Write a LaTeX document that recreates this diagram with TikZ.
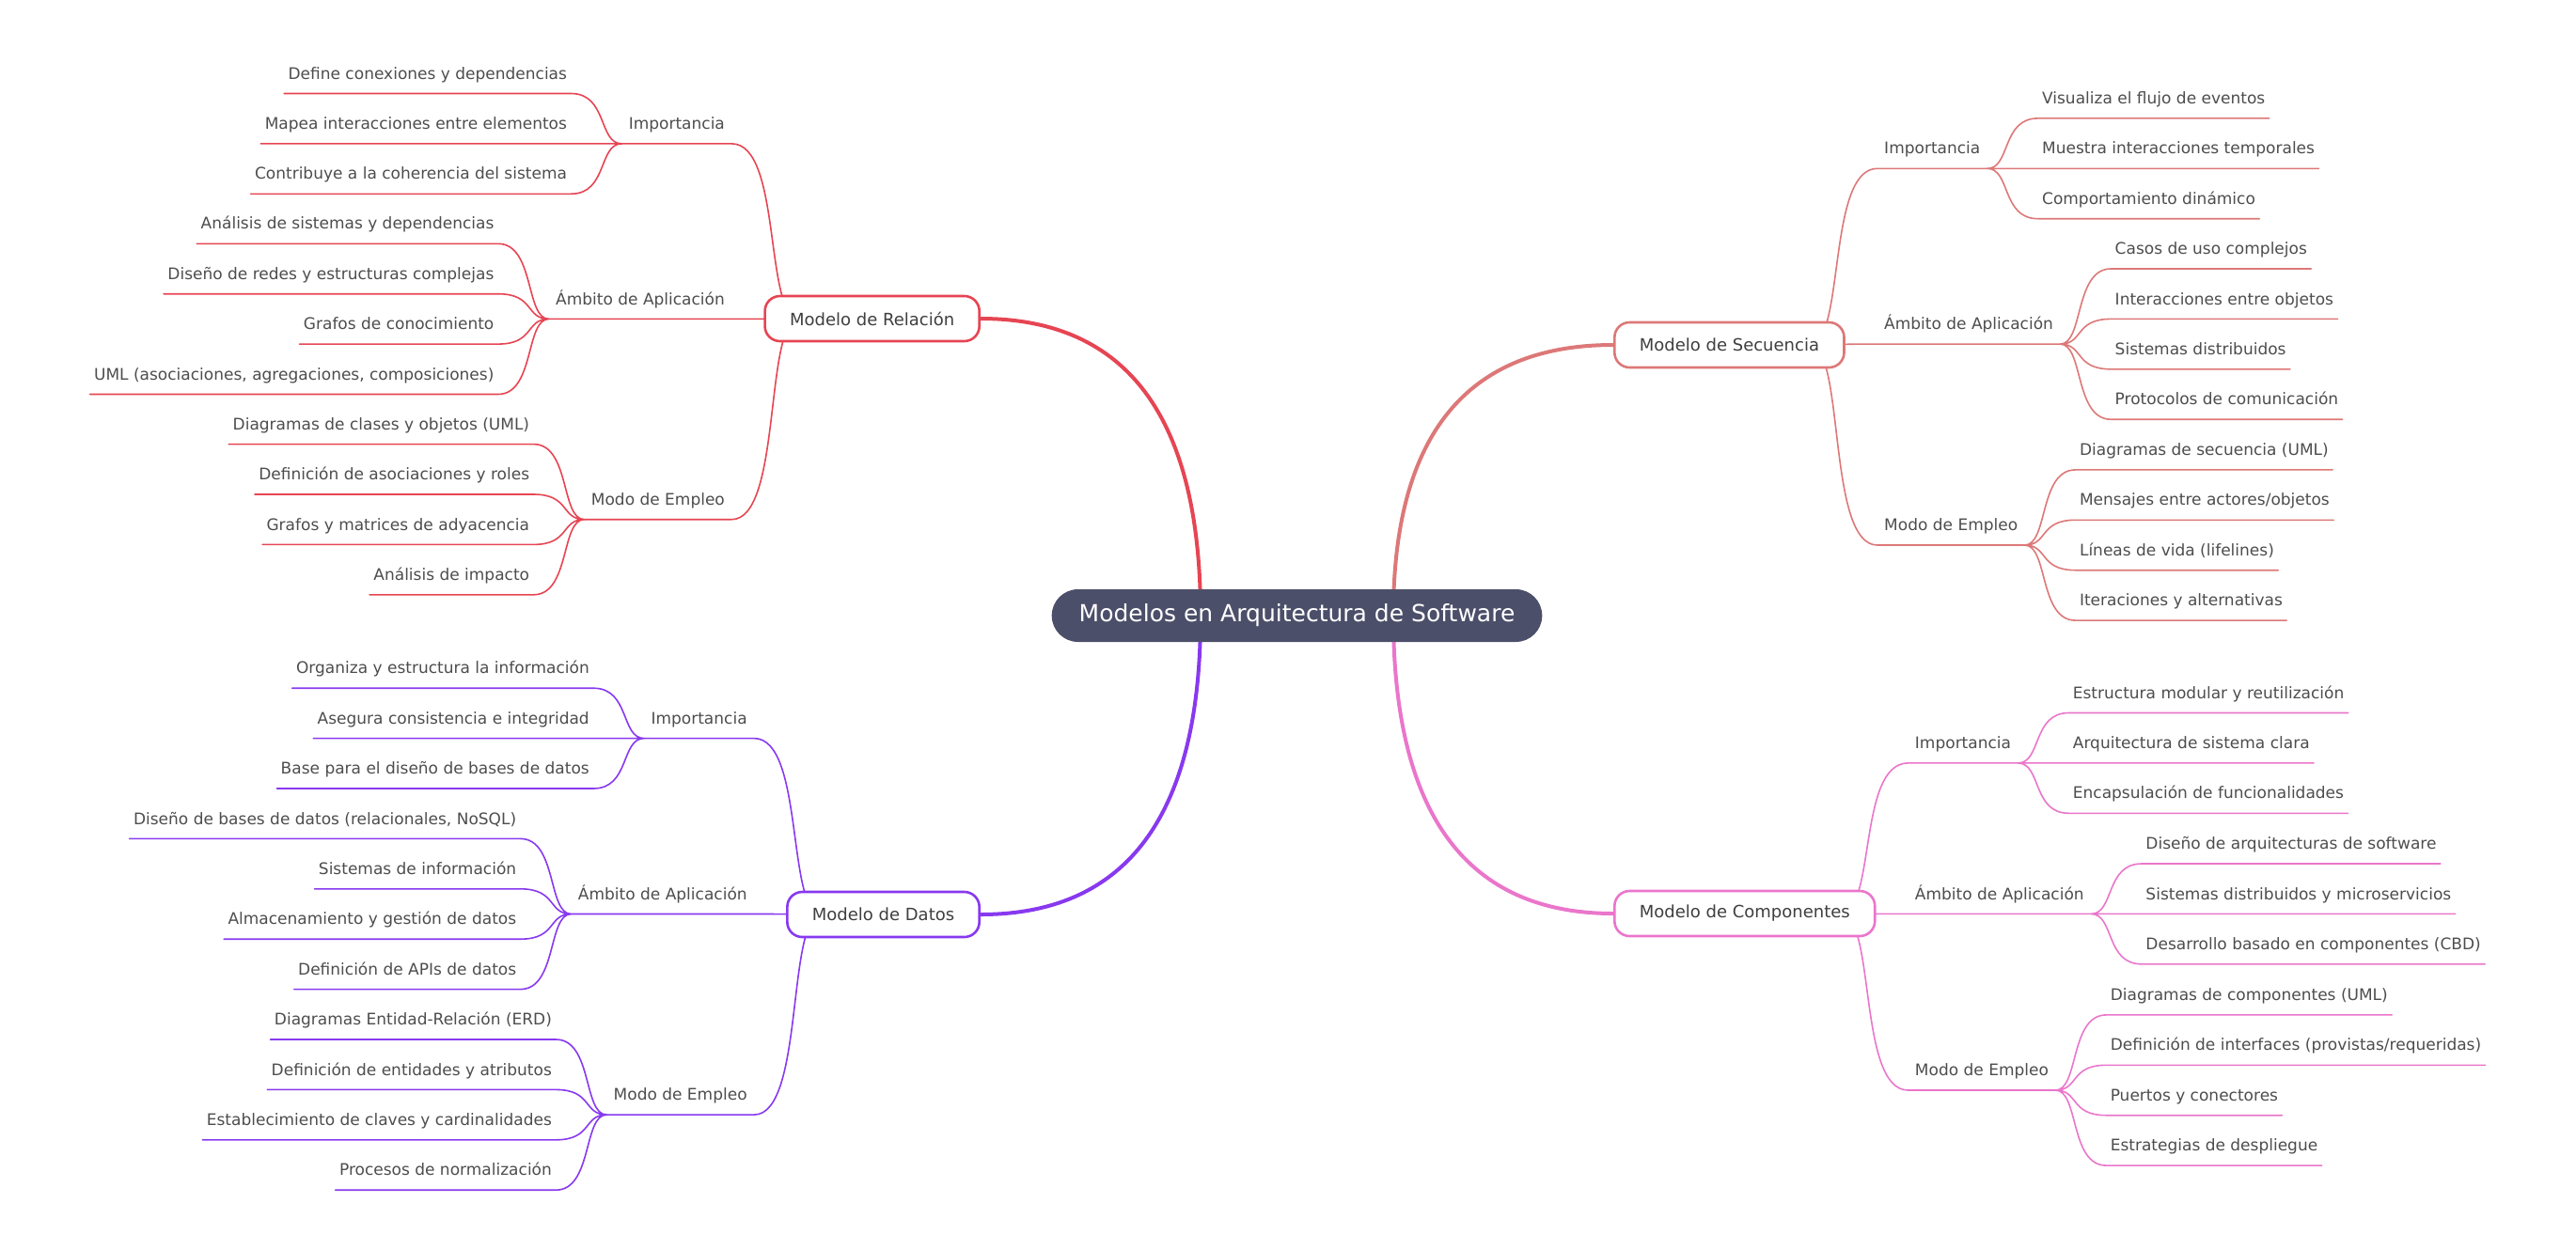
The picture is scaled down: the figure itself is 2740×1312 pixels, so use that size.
\documentclass[tikz,border=0pt]{standalone}
\usepackage{fontspec}
\setmainfont{DejaVu Sans}
\usetikzlibrary{positioning, calc, backgrounds}
\definecolor{RootC}{HTML}{4C4F69}
\definecolor{RelA}{HTML}{E64553}
\definecolor{SeqA}{HTML}{DD7878}
\definecolor{DatA}{HTML}{8839EF}
\definecolor{ComA}{HTML}{EA76CB}
\definecolor{TxtA}{HTML}{3F3F3F}
\definecolor{TxtB}{HTML}{4D4D4D}
\tikzset{
  root/.style={fill=RootC, text=white, rounded corners=14pt,
               minimum height=28pt, inner xsep=14.5pt,
               font=\fontsize{12.5}{15}\selectfont},
  topic/.style={draw, line width=1.3pt, fill=white, rounded corners=8pt,
                minimum height=24pt, inner xsep=13.25pt, text=TxtA,
                font=\fontsize{9}{11}\selectfont},
  subt/.style={inner xsep=3.5pt, inner ysep=0pt, text depth=7.5pt,
               text=TxtB, font=\fontsize{8.5}{10}\selectfont},
  leaf/.style={subt, inner xsep=2pt},
  mainln/.style={line width=2pt},
  rel/.style={draw=RelA, line width=0.8pt, line cap=round},
  seq/.style={draw=SeqA, line width=0.8pt, line cap=round},
  dat/.style={draw=DatA, line width=0.8pt, line cap=round},
  com/.style={draw=ComA, line width=0.8pt, line cap=round},
  fanl/.style={to path={.. controls +(-25,0) and +(39,0) .. (\tikztotarget)}},
  fanr/.style={to path={.. controls +(25,0) and +(-39,0) .. (\tikztotarget)}}
}

\begin{document}
\begin{tikzpicture}[x=0.5pt, y=-0.5pt]
  \useasboundingbox (0,0) rectangle (2740,1312);

  % ----- Root and the four models -----
  \node[root] (root) at (1379.5,655) {Modelos en Arquitectura de Software};
  \node[topic, draw=RelA, anchor=east] (rel) at (1043,339) {Modelo de Relación};
  \node[topic, draw=DatA, anchor=east] (dat) at (1043,973) {Modelo de Datos};
  \node[topic, draw=SeqA, anchor=west] (seq) at (1716,367) {Modelo de Secuencia};
  \node[topic, draw=ComA, anchor=west] (com) at (1716,972) {Modelo de Componentes};

  % ----- Modelo de Relación (left, top) -----
  \node[subt, anchor=south east] (relimp) at ($(rel.west |- 0,152.9)+(-34,0)$) {Importancia};
  \node[subt, anchor=south east] (relamb) at ($(rel.west |- 0,339.4)+(-34,0)$) {Ámbito de Aplicación};
  \node[subt, anchor=south east] (relmod) at ($(rel.west |- 0,552.7)+(-34,0)$) {Modo de Empleo};

  \node[leaf, anchor=south east] (relimp1) at ($(relimp.south west)+(-54,-53.4)$) {Define conexiones y dependencias};
  \node[leaf, anchor=south east] (relimp2) at ($(relimp.south west)+(-54,0)$) {Mapea interacciones entre elementos};
  \node[leaf, anchor=south east] (relimp3) at ($(relimp.south west)+(-54,53.4)$) {Contribuye a la coherencia del sistema};

  \node[leaf, anchor=south east] (relamb1) at ($(relamb.south west)+(-54,-80.1)$) {Análisis de sistemas y dependencias};
  \node[leaf, anchor=south east] (relamb2) at ($(relamb.south west)+(-54,-26.7)$) {Diseño de redes y estructuras complejas};
  \node[leaf, anchor=south east] (relamb3) at ($(relamb.south west)+(-54,26.7)$) {Grafos de conocimiento};
  \node[leaf, anchor=south east] (relamb4) at ($(relamb.south west)+(-54,80.1)$) {UML (asociaciones, agregaciones, composiciones)};

  \node[leaf, anchor=south east] (relmod1) at ($(relmod.south west)+(-54,-80.1)$) {Diagramas de clases y objetos (UML)};
  \node[leaf, anchor=south east] (relmod2) at ($(relmod.south west)+(-54,-26.7)$) {Definición de asociaciones y roles};
  \node[leaf, anchor=south east] (relmod3) at ($(relmod.south west)+(-54,26.7)$) {Grafos y matrices de adyacencia};
  \node[leaf, anchor=south east] (relmod4) at ($(relmod.south west)+(-54,80.1)$) {Análisis de impacto};

  % ----- Modelo de Datos (left, bottom) -----
  \node[subt, anchor=south east] (datimp) at ($(dat.west |- 0,785.6)+(-34,0)$) {Importancia};
  \node[subt, anchor=south east] (datamb) at ($(dat.west |- 0,972.5)+(-34,0)$) {Ámbito de Aplicación};
  \node[subt, anchor=south east] (datmod) at ($(dat.west |- 0,1186.1)+(-34,0)$) {Modo de Empleo};

  \node[leaf, anchor=south east] (datimp1) at ($(datimp.south west)+(-54,-53.4)$) {Organiza y estructura la información};
  \node[leaf, anchor=south east] (datimp2) at ($(datimp.south west)+(-54,0)$) {Asegura consistencia e integridad};
  \node[leaf, anchor=south east] (datimp3) at ($(datimp.south west)+(-54,53.4)$) {Base para el diseño de bases de datos};

  \node[leaf, anchor=south east] (datamb1) at ($(datamb.south west)+(-54,-80.1)$) {Diseño de bases de datos (relacionales, NoSQL)};
  \node[leaf, anchor=south east] (datamb2) at ($(datamb.south west)+(-54,-26.7)$) {Sistemas de información};
  \node[leaf, anchor=south east] (datamb3) at ($(datamb.south west)+(-54,26.7)$) {Almacenamiento y gestión de datos};
  \node[leaf, anchor=south east] (datamb4) at ($(datamb.south west)+(-54,80.1)$) {Definición de APIs de datos};

  \node[leaf, anchor=south east] (datmod1) at ($(datmod.south west)+(-54,-80.1)$) {Diagramas Entidad-Relación (ERD)};
  \node[leaf, anchor=south east] (datmod2) at ($(datmod.south west)+(-54,-26.7)$) {Definición de entidades y atributos};
  \node[leaf, anchor=south east] (datmod3) at ($(datmod.south west)+(-54,26.7)$) {Establecimiento de claves y cardinalidades};
  \node[leaf, anchor=south east] (datmod4) at ($(datmod.south west)+(-54,80.1)$) {Procesos de normalización};

  % ----- Modelo de Secuencia (right, top) -----
  \node[subt, anchor=south west] (seqimp) at ($(seq.east |- 0,179.3)+(34,0)$) {Importancia};
  \node[subt, anchor=south west] (seqamb) at ($(seq.east |- 0,366.1)+(34,0)$) {Ámbito de Aplicación};
  \node[subt, anchor=south west] (seqmod) at ($(seq.east |- 0,580)+(34,0)$) {Modo de Empleo};

  \node[leaf, anchor=south west] (seqimp1) at ($(seqimp.south east)+(54,-53.4)$) {Visualiza el flujo de eventos};
  \node[leaf, anchor=south west] (seqimp2) at ($(seqimp.south east)+(54,0)$) {Muestra interacciones temporales};
  \node[leaf, anchor=south west] (seqimp3) at ($(seqimp.south east)+(54,53.4)$) {Comportamiento dinámico};

  \node[leaf, anchor=south west] (seqamb1) at ($(seqamb.south east)+(54,-80.1)$) {Casos de uso complejos};
  \node[leaf, anchor=south west] (seqamb2) at ($(seqamb.south east)+(54,-26.7)$) {Interacciones entre objetos};
  \node[leaf, anchor=south west] (seqamb3) at ($(seqamb.south east)+(54,26.7)$) {Sistemas distribuidos};
  \node[leaf, anchor=south west] (seqamb4) at ($(seqamb.south east)+(54,80.1)$) {Protocolos de comunicación};

  \node[leaf, anchor=south west] (seqmod1) at ($(seqmod.south east)+(54,-80.1)$) {Diagramas de secuencia (UML)};
  \node[leaf, anchor=south west] (seqmod2) at ($(seqmod.south east)+(54,-26.7)$) {Mensajes entre actores/objetos};
  \node[leaf, anchor=south west] (seqmod3) at ($(seqmod.south east)+(54,26.7)$) {Líneas de vida (lifelines)};
  \node[leaf, anchor=south west] (seqmod4) at ($(seqmod.south east)+(54,80.1)$) {Iteraciones y alternativas};

  % ----- Modelo de Componentes (right, bottom) -----
  \node[subt, anchor=south west] (comimp) at ($(com.east |- 0,811.9)+(34,0)$) {Importancia};
  \node[subt, anchor=south west] (comamb) at ($(com.east |- 0,972.4)+(34,0)$) {Ámbito de Aplicación};
  \node[subt, anchor=south west] (commod) at ($(com.east |- 0,1160)+(34,0)$) {Modo de Empleo};

  \node[leaf, anchor=south west] (comimp1) at ($(comimp.south east)+(54,-53.4)$) {Estructura modular y reutilización};
  \node[leaf, anchor=south west] (comimp2) at ($(comimp.south east)+(54,0)$) {Arquitectura de sistema clara};
  \node[leaf, anchor=south west] (comimp3) at ($(comimp.south east)+(54,53.4)$) {Encapsulación de funcionalidades};

  \node[leaf, anchor=south west] (comamb1) at ($(comamb.south east)+(54,-53.4)$) {Diseño de arquitecturas de software};
  \node[leaf, anchor=south west] (comamb2) at ($(comamb.south east)+(54,0)$) {Sistemas distribuidos y microservicios};
  \node[leaf, anchor=south west] (comamb3) at ($(comamb.south east)+(54,53.4)$) {Desarrollo basado en componentes (CBD)};

  \node[leaf, anchor=south west] (commod1) at ($(commod.south east)+(54,-80.1)$) {Diagramas de componentes (UML)};
  \node[leaf, anchor=south west] (commod2) at ($(commod.south east)+(54,-26.7)$) {Definición de interfaces (provistas/requeridas)};
  \node[leaf, anchor=south west] (commod3) at ($(commod.south east)+(54,26.7)$) {Puertos y conectores};
  \node[leaf, anchor=south west] (commod4) at ($(commod.south east)+(54,80.1)$) {Estrategias de despliegue};

  \begin{scope}[on background layer]
    % ----- Root -> models (thick curves) -----
    \coordinate (rootl) at ([xshift=-51.25pt]root.center);
    \coordinate (rootr) at ([xshift=51.25pt]root.center);
    \draw[mainln, RelA] (rootl) .. controls ($(rootl)!.667!(rootl |- rel.east)$)
      and ($(rel.east)!.667!(rootl |- rel.east)$) .. (rel.east);
    \draw[mainln, DatA] (rootl) .. controls ($(rootl)!.667!(rootl |- dat.east)$)
      and ($(dat.east)!.667!(rootl |- dat.east)$) .. (dat.east);
    \draw[mainln, SeqA] (rootr) .. controls ($(rootr)!.667!(rootr |- seq.west)$)
      and ($(seq.west)!.667!(rootr |- seq.west)$) .. (seq.west);
    \draw[mainln, ComA] (rootr) .. controls ($(rootr)!.667!(rootr |- com.west)$)
      and ($(com.west)!.667!(rootr |- com.west)$) .. (com.west);

    % ----- Models -> sections (underlined) -----
    \draw[rel] ([xshift=19pt]rel.west) .. controls (rel.west) and ($(rel.west |- relimp.south)+(20,0)$) .. (relimp.south east) -- (relimp.south west);
    \draw[rel] ([xshift=19pt]rel.west) .. controls (rel.west) and ($(rel.west |- relamb.south)+(20,0)$) .. (relamb.south east) -- (relamb.south west);
    \draw[rel] ([xshift=19pt]rel.west) .. controls (rel.west) and ($(rel.west |- relmod.south)+(20,0)$) .. (relmod.south east) -- (relmod.south west);

    \draw[dat] ([xshift=19pt]dat.west) .. controls (dat.west) and ($(dat.west |- datimp.south)+(20,0)$) .. (datimp.south east) -- (datimp.south west);
    \draw[dat] ([xshift=19pt]dat.west) .. controls (dat.west) and ($(dat.west |- datamb.south)+(20,0)$) .. (datamb.south east) -- (datamb.south west);
    \draw[dat] ([xshift=19pt]dat.west) .. controls (dat.west) and ($(dat.west |- datmod.south)+(20,0)$) .. (datmod.south east) -- (datmod.south west);

    \draw[seq] ([xshift=-19pt]seq.east) .. controls (seq.east) and ($(seq.east |- seqimp.south)+(-20,0)$) .. (seqimp.south west) -- (seqimp.south east);
    \draw[seq] ([xshift=-19pt]seq.east) .. controls (seq.east) and ($(seq.east |- seqamb.south)+(-20,0)$) .. (seqamb.south west) -- (seqamb.south east);
    \draw[seq] ([xshift=-19pt]seq.east) .. controls (seq.east) and ($(seq.east |- seqmod.south)+(-20,0)$) .. (seqmod.south west) -- (seqmod.south east);

    \draw[com] ([xshift=-19pt]com.east) .. controls (com.east) and ($(com.east |- comimp.south)+(-20,0)$) .. (comimp.south west) -- (comimp.south east);
    \draw[com] ([xshift=-19pt]com.east) .. controls (com.east) and ($(com.east |- comamb.south)+(-20,0)$) .. (comamb.south west) -- (comamb.south east);
    \draw[com] ([xshift=-19pt]com.east) .. controls (com.east) and ($(com.east |- commod.south)+(-20,0)$) .. (commod.south west) -- (commod.south east);
  \end{scope}

  % ----- Sections -> leaves (left side) -----
  \draw[rel] (relimp.south west) to[fanl] (relimp1.south east) -- (relimp1.south west)
             (relimp.south west) to[fanl] (relimp2.south east) -- (relimp2.south west)
             (relimp.south west) to[fanl] (relimp3.south east) -- (relimp3.south west);
  \draw[rel] (relamb.south west) to[fanl] (relamb1.south east) -- (relamb1.south west)
             (relamb.south west) to[fanl] (relamb2.south east) -- (relamb2.south west)
             (relamb.south west) to[fanl] (relamb3.south east) -- (relamb3.south west)
             (relamb.south west) to[fanl] (relamb4.south east) -- (relamb4.south west);
  \draw[rel] (relmod.south west) to[fanl] (relmod1.south east) -- (relmod1.south west)
             (relmod.south west) to[fanl] (relmod2.south east) -- (relmod2.south west)
             (relmod.south west) to[fanl] (relmod3.south east) -- (relmod3.south west)
             (relmod.south west) to[fanl] (relmod4.south east) -- (relmod4.south west);

  \draw[dat] (datimp.south west) to[fanl] (datimp1.south east) -- (datimp1.south west)
             (datimp.south west) to[fanl] (datimp2.south east) -- (datimp2.south west)
             (datimp.south west) to[fanl] (datimp3.south east) -- (datimp3.south west);
  \draw[dat] (datamb.south west) to[fanl] (datamb1.south east) -- (datamb1.south west)
             (datamb.south west) to[fanl] (datamb2.south east) -- (datamb2.south west)
             (datamb.south west) to[fanl] (datamb3.south east) -- (datamb3.south west)
             (datamb.south west) to[fanl] (datamb4.south east) -- (datamb4.south west);
  \draw[dat] (datmod.south west) to[fanl] (datmod1.south east) -- (datmod1.south west)
             (datmod.south west) to[fanl] (datmod2.south east) -- (datmod2.south west)
             (datmod.south west) to[fanl] (datmod3.south east) -- (datmod3.south west)
             (datmod.south west) to[fanl] (datmod4.south east) -- (datmod4.south west);

  % ----- Sections -> leaves (right side) -----
  \draw[seq] (seqimp.south east) to[fanr] (seqimp1.south west) -- (seqimp1.south east)
             (seqimp.south east) to[fanr] (seqimp2.south west) -- (seqimp2.south east)
             (seqimp.south east) to[fanr] (seqimp3.south west) -- (seqimp3.south east);
  \draw[seq] (seqamb.south east) to[fanr] (seqamb1.south west) -- (seqamb1.south east)
             (seqamb.south east) to[fanr] (seqamb2.south west) -- (seqamb2.south east)
             (seqamb.south east) to[fanr] (seqamb3.south west) -- (seqamb3.south east)
             (seqamb.south east) to[fanr] (seqamb4.south west) -- (seqamb4.south east);
  \draw[seq] (seqmod.south east) to[fanr] (seqmod1.south west) -- (seqmod1.south east)
             (seqmod.south east) to[fanr] (seqmod2.south west) -- (seqmod2.south east)
             (seqmod.south east) to[fanr] (seqmod3.south west) -- (seqmod3.south east)
             (seqmod.south east) to[fanr] (seqmod4.south west) -- (seqmod4.south east);

  \draw[com] (comimp.south east) to[fanr] (comimp1.south west) -- (comimp1.south east)
             (comimp.south east) to[fanr] (comimp2.south west) -- (comimp2.south east)
             (comimp.south east) to[fanr] (comimp3.south west) -- (comimp3.south east);
  \draw[com] (comamb.south east) to[fanr] (comamb1.south west) -- (comamb1.south east)
             (comamb.south east) to[fanr] (comamb2.south west) -- (comamb2.south east)
             (comamb.south east) to[fanr] (comamb3.south west) -- (comamb3.south east);
  \draw[com] (commod.south east) to[fanr] (commod1.south west) -- (commod1.south east)
             (commod.south east) to[fanr] (commod2.south west) -- (commod2.south east)
             (commod.south east) to[fanr] (commod3.south west) -- (commod3.south east)
             (commod.south east) to[fanr] (commod4.south west) -- (commod4.south east);

\end{tikzpicture}
\end{document}
